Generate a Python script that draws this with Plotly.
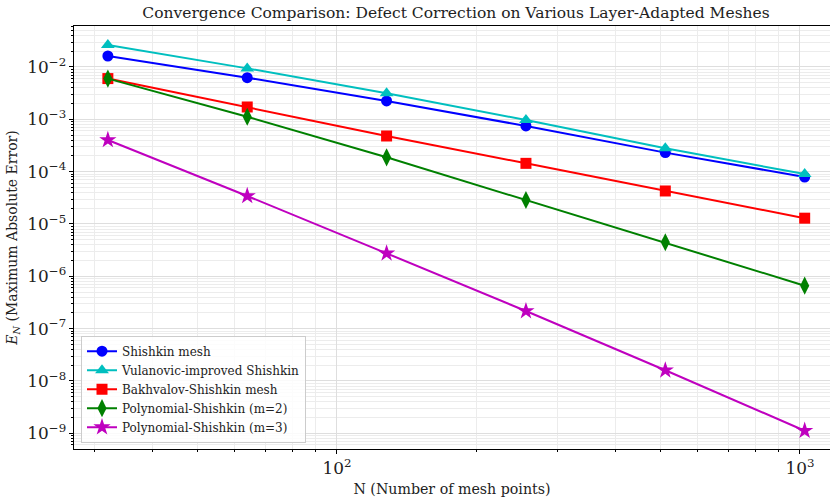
import plotly.graph_objects as go

# Mesh sizes
N = [32, 64, 128, 256, 512, 1024]

# Maximum absolute error per mesh type
err_shishkin = [1.62e-2, 6.25e-3, 2.24e-3, 7.46e-4, 2.31e-4, 7.9e-5]
err_vulanovic = [2.63e-2, 9.4e-3, 3.14e-3, 9.7e-4, 2.79e-4, 9.0e-5]
err_bakhvalov = [6.0e-3, 1.72e-3, 4.8e-4, 1.44e-4, 4.27e-5, 1.29e-5]
err_poly2 = [6.0e-3, 1.12e-3, 1.88e-4, 2.87e-5, 4.47e-6, 6.62e-7]
err_poly3 = [4.03e-4, 3.43e-5, 2.75e-6, 2.17e-7, 1.6e-8, 1.12e-9]

series = [
    ("Shishkin mesh", err_shishkin, "#0000ff", "circle", 11),
    ("Vulanovic-improved Shishkin", err_vulanovic, "#00bfbf", "triangle-up", 12),
    ("Bakhvalov-Shishkin mesh", err_bakhvalov, "#ff0000", "square", 11),
    ("Polynomial-Shishkin (m=2)", err_poly2, "#008000", "diamond-tall", 13),
    ("Polynomial-Shishkin (m=3)", err_poly3, "#bf00bf", "star", 13),
]

FONT = "DejaVu Serif"

fig = go.Figure()
for name, ys, color, symbol, size in series:
    fig.add_trace(go.Scatter(
        x=N, y=ys, name=name, mode="lines+markers",
        line=dict(color=color, width=2),
        marker=dict(symbol=symbol, size=size, color=color, line=dict(width=0)),
    ))

grid_major = "#dedede"
grid_minor = "#ececec"

axis_common = dict(
    type="log",
    dtick=1,
    exponentformat="power",
    showexponent="all",
    ticks="outside",
    ticklen=4,
    tickwidth=1,
    tickcolor="black",
    showline=True,
    linecolor="black",
    linewidth=1.2,
    showgrid=True,
    gridcolor=grid_major,
    gridwidth=1,
    zeroline=False,
    tickfont=dict(family=FONT, size=13.5, color="#222222"),
    minor=dict(dtick="D1", ticks="outside", ticklen=2, tickcolor="black",
               showgrid=True, gridcolor=grid_minor, gridwidth=1),
)

fig.update_layout(
    width=830,
    height=497,
    margin=dict(l=74, r=0, t=26, b=48),
    paper_bgcolor="white",
    plot_bgcolor="white",
    font=dict(family=FONT, color="#222222"),
    title=dict(
        text="Convergence Comparison: Defect Correction on Various Layer-Adapted Meshes",
        font=dict(family=FONT, size=15.5, color="#222222"),
        xref="container", x=456 / 830, xanchor="center",
        yref="container", y=1 - 13 / 497, yanchor="middle",
    ),
    xaxis=dict(
        axis_common,
        range=[1.432, 3.065],
        mirror=True,
        title=dict(text="N (Number of mesh points)",
                   font=dict(family=FONT, size=14.2, color="#222222"),
                   standoff=7),
    ),
    yaxis=dict(
        axis_common,
        range=[-9.30, -1.217],
        title=dict(text="<i>E</i><sub><i>N</i></sub> (Maximum Absolute Error)",
                   font=dict(family=FONT, size=14, color="#222222"),
                   standoff=6),
    ),
    legend=dict(
        x=7 / 756, y=0.015,
        xref="paper", yref="paper",
        xanchor="left", yanchor="bottom",
        bgcolor="rgba(255,255,255,0.85)",
        bordercolor="#cccccc",
        borderwidth=1,
        font=dict(family=FONT, size=12, color="#222222"),
        tracegroupgap=0,
        itemwidth=30,
    ),
)

fig.write_html("out.html")
